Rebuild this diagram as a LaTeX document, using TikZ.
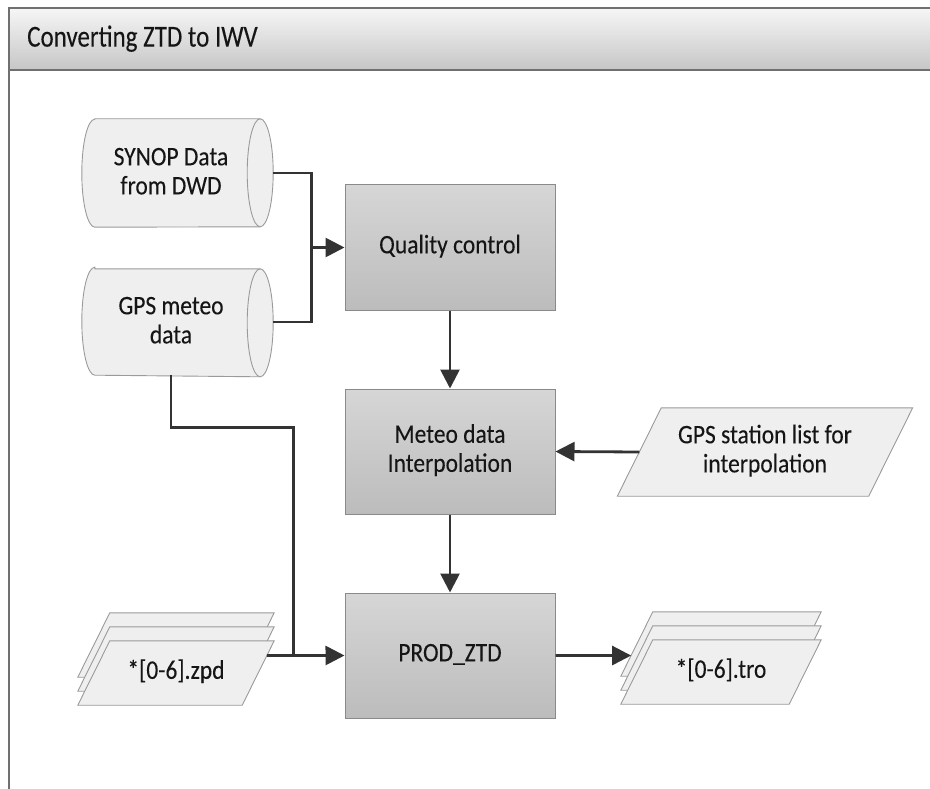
\documentclass[tikz,border=0pt]{standalone}
\usepackage{fontspec}
\usepackage{graphicx}
\setmainfont{Carlito}[FakeBold=0.15]
\usetikzlibrary{arrows.meta,calc}

\definecolor{boxtop}{HTML}{D6D6D6}
\definecolor{boxbot}{HTML}{BCBCBC}
\definecolor{boxedge}{HTML}{8A8A8A}
\definecolor{shapefill}{HTML}{EFEFEF}
\definecolor{shapeedge}{HTML}{9A9A9A}
\definecolor{linec}{HTML}{333333}
\definecolor{textc}{HTML}{151515}
\definecolor{titletop}{HTML}{F6F6F6}
\definecolor{titlebot}{HTML}{C6C6C6}
\definecolor{framec}{HTML}{707070}

\newcommand\dgfont{\fontsize{23.5}{25.5}\selectfont}
\newcommand\dgtitlefont{\fontsize{25}{27}\selectfont}
% slightly tall lettering, one or more centred lines
\newcommand\tall[2][1.14]{\scalebox{1}[#1]{\begin{tabular}{@{}c@{}}#2\end{tabular}}}

\pgfdeclarelayer{bg}
\pgfsetlayers{bg,main}

\begin{document}
\begin{tikzpicture}[x=1pt,y=-1pt,
  conn/.style={draw=linec,line width=2.8pt},
  arr/.style={conn,-{Triangle[length=19pt,width=19pt]}},
  procbox/.style={draw=boxedge,line width=1pt,top color=boxtop,bottom color=boxbot,
    minimum width=210pt,minimum height=125pt,align=center,font=\dgfont,text=textc},
  area/.style={draw=none,inner sep=0pt},
  lbl/.style={align=center,font=\dgfont,text=textc,inner sep=0pt},
  shapeline/.style={draw=shapeedge,fill=shapefill,line width=0.9pt},
]
\useasboundingbox (0,0) rectangle (930,789);

% frame and title bar
\draw[framec,line width=1.2pt] (9,70) -- (9,800);
\draw[draw=framec,line width=1.2pt,top color=titletop,bottom color=titlebot] (9,8) rectangle (940,70);
\node[anchor=west,font=\dgtitlefont,text=textc,inner sep=0pt] (title) at (27,40) {\tall[1.22]{Converting ZTD to IWV}};

% process boxes
\node[procbox] (qc)   at (450,247.5) {\tall{Quality control}};
\node[procbox] (met)  at (450,451.5) {\tall{Meteo data\\Interpolation}};
\node[procbox] (prod) at (450,655.5) {\tall{PROD\_ZTD}};

% data stores (cylinders)
\node[area,minimum width=191pt,minimum height=108pt] (syn) at (177.5,173) {};
\node[lbl] (syntxt) at (171,174) {\tall{SYNOP Data\\from DWD}};
\node[area,minimum width=191pt,minimum height=106pt] (gps) at (177.5,322) {};
\node[lbl] (gpstxt) at (171,323) {\tall{GPS meteo\\data}};

% input/output data
\node[area,minimum width=251pt,minimum height=88pt,lbl] (gsl) at (765,452) {\tall{GPS station list for\\interpolation}};
\node[area,minimum width=164pt,minimum height=64pt,lbl] (zpd) at (176,673) {\tall{*[0-6].zpd}};
\node[area,minimum width=168pt,minimum height=64pt,lbl] (tro) at (721,672) {\tall{*[0-6].tro}};

\begin{pgfonlayer}{bg}
  % cylinders
  \foreach \c in {syn,gps}{
    \draw[shapeline] ($(\c.north west)+(13,0)$) -- ($(\c.north east)+(-13,0)$)
      arc[start angle=-90,end angle=90,x radius=13,y radius=0.5*108]
      -- ($(\c.south west)+(13,0)$)
      arc[start angle=90,end angle=270,x radius=13,y radius=0.5*108] -- cycle;
    \draw[draw=shapeedge,line width=0.9pt] ($(\c.north east)+(-13,0)$)
      arc[start angle=270,end angle=90,x radius=13,y radius=0.5*108];
  }
  % station list
  \draw[shapeline] ($(gsl.north west)+(22,0)$) -- ($(gsl.north east)+(22,0)$)
    -- ($(gsl.south east)+(-22,0)$) -- ($(gsl.south west)+(-22,0)$) -- cycle;
  % stacked documents
  \foreach \c in {zpd,tro}{
    \foreach \dy in {-28,-14,0}{
      \draw[shapeline] ($(\c.north west)+(16,\dy)$) -- ($(\c.north east)+(16,\dy)$)
        -- ($(\c.south east)+(-16,\dy)$) -- ($(\c.south west)+(-16,\dy)$) -- cycle;
    }
  }
\end{pgfonlayer}

% connection points on slanted edges
\coordinate (zpdTR) at ($(zpd.north east)+(16,0)$);
\coordinate (zpdBR) at ($(zpd.south east)+(-16,0)$);
\coordinate (zpdout) at (intersection of zpdTR--zpdBR and prod.west--prod.east);
\coordinate (troTL) at ($(tro.north west)+(16,-28)$);
\coordinate (troBL) at ($(tro.south west)+(-16,-28)$);
\coordinate (troin) at (intersection of troTL--troBL and prod.west--prod.east);
\coordinate (j1) at ($(qc.west)+(-33,0)$);
\coordinate (j2) at ($(prod.west)+(-51,0)$);

% connectors
\draw[conn] (syn.east) -| (j1);
\draw[conn] (gps.east) -| (j1);
\draw[arr] (j1) -- (qc.west);
\draw[arr] (qc.south) -- (met.north);
\draw[arr] (gsl.west) -- (met.east);
\draw[arr] (met.south) -- (prod.north);
\draw[conn] (gpstxt |- gps.south) -- ++(0,52) -| (j2);
\draw[arr] (zpdout) -- (prod.west);
\draw[arr] (prod.east) -- (troin);
\end{tikzpicture}
\end{document}
